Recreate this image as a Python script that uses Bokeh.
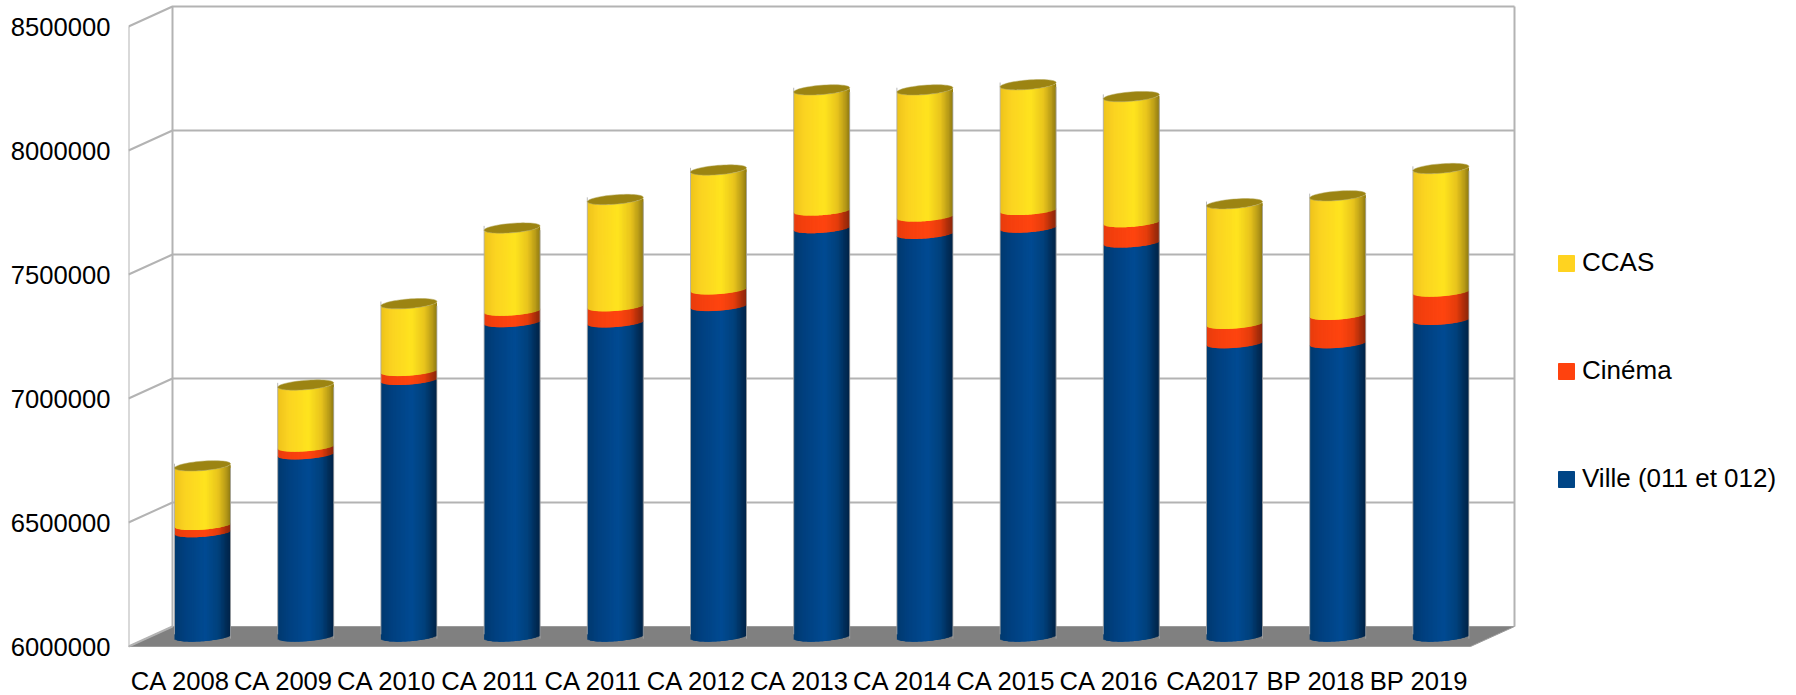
import numpy as np
from bokeh.plotting import figure
from bokeh.models import ColumnDataSource, FixedTicker, Range1d, Legend, LegendItem
from bokeh.embed import file_html
from bokeh.resources import INLINE

# ---------- data ----------
labels = ["CA 2008", "CA 2009", "CA 2010", "CA 2011", "CA 2011", "CA 2012", "CA 2013",
          "CA 2014", "CA 2015", "CA 2016", "CA2017", "BP 2018", "BP 2019"]
ville = [6421000, 6735000, 7035000, 7268000, 7267000, 7333000, 7647000,
         7624000, 7649000, 7589000, 7183000, 7183000, 7277000]
cinema = [29000, 31000, 36000, 46000, 65000, 67000, 71000,
          70000, 71000, 82000, 78000, 114000, 114000]
ccas = [238000, 248000, 271000, 333000, 430000, 481000, 486000,
        510000, 505000, 506000, 484000, 480000, 496000]
y_ticks = [6000000, 6500000, 7000000, 7500000, 8000000, 8500000]
series_names = ["CCAS", "Cinéma", "Ville (011 et 012)"]

# ---------- layout (pixels of the page) ----------
W, H = 1796, 695
FRONT_L, BACK_R = 128, 1514
FLOOR_Y = 646
STEP = 103.2
BAR0 = 202.0
DX, DY = 44, 20
PX_V = 500000 / 124.0          # value units per pixel
RAD = 28.0
TILT, MINOR = 2.17, 4.7
NSTRIP = 42
xu = lambda px: px / STEP      # pixel length to x units
BASE = y_ticks[0]

x0 = (FRONT_L - BAR0) / STEP
x1 = (W - BAR0) / STEP
yl = BASE - (H - FLOOR_Y) * PX_V
yh = BASE + FLOOR_Y * PX_V

p = figure(width=W, height=H, output_backend="svg", toolbar_location=None,
           x_range=Range1d(x0, x1), y_range=Range1d(yl, yh),
           min_border_left=FRONT_L, min_border_right=0, min_border_top=0,
           min_border_bottom=0, background_fill_color="white",
           border_fill_color="white", outline_line_color=None)
p.styles = {"margin": "0"}
p.grid.visible = False

LINE = "#b3b3b3"
# wall positions in data units
xf_l = x0
xb_l = x0 + xu(DX)
xb_r = x0 + xu(BACK_R - FRONT_L)
xf_r = xb_r - xu(DX)
dv = DY * PX_V

# floor
p.patch([xf_l, xf_r, xb_r, xb_l], [BASE, BASE, BASE + dv, BASE + dv],
        fill_color="#808080", line_color="#9a9a9a", line_width=1)
# grid on back wall and left wall
for v in y_ticks[1:]:
    p.line([xf_l, xb_l, xb_r], [v, v + dv, v + dv], line_color=LINE, line_width=2)
p.line([xf_l, xb_l], [BASE, BASE + dv], line_color=LINE, line_width=2)
p.line([xf_l, xf_l], [BASE, y_ticks[-1]], line_color=LINE, line_width=2)
p.line([xb_l, xb_l], [BASE + dv, y_ticks[-1] + dv], line_color=LINE, line_width=2)
p.line([xb_r, xb_r], [BASE + dv, y_ticks[-1] + dv], line_color=LINE, line_width=2)

# ---------- cylinders ----------
stops_t = [0.0, 0.18, 0.55, 0.78, 0.92, 1.0]
shades = {
    "ville": ["#003a70", "#00407f", "#004b93", "#00417c", "#002d58", "#002347"],
    "cinema": ["#e83d0d", "#f5400e", "#ff4510", "#e53d0c", "#a82d0a", "#8a260a"],
    "ccas": ["#eec41c", "#fbd322", "#ffe41f", "#e8c41d", "#b79a18", "#8f7a12"],
}
CAP = "#9c8412"


def rgb(h):
    return [int(h[i:i + 2], 16) for i in (1, 3, 5)]


def strip_colors(name):
    t = (np.arange(NSTRIP) + 0.5) / NSTRIP
    cols = np.array([rgb(c) for c in shades[name]], float)
    r = [np.interp(t, stops_t, cols[:, k]) for k in range(3)]
    return ["#%02x%02x%02x" % (int(a), int(b), int(c)) for a, b, c in zip(*r)]


s = (np.arange(NSTRIP) + 0.5) / NSTRIP * 2 - 1
edges = np.linspace(-1, 1, NSTRIP + 1)
lower = (-TILT * s + MINOR * np.sqrt(1 - s ** 2))  # px downward from the ellipse centre


def level(v):  # value at the centre of the bar's depth -> data y of ellipse centre
    return np.asarray(v, float) + dv / 2


ville_a = np.array(ville, float)
cin_a = ville_a + np.array(cinema, float)
top_a = cin_a + np.array(ccas, float)

bands = [("ville", np.full(13, BASE, float), ville_a),
         ("cinema", ville_a, cin_a),
         ("ccas", cin_a, top_a)]
for name, lo, hi in bands:
    cols = strip_colors(name)
    L, R, T, B, C = [], [], [], [], []
    for i in range(13):
        for j in range(NSTRIP):
            L.append(i + edges[j] * xu(RAD))
            R.append(i + edges[min(j + 2, NSTRIP)] * xu(RAD))
            B.append(level(lo[i]) - lower[j] * PX_V)
            extra = 1.0 * PX_V if name != "ccas" else 0
            T.append(level(hi[i]) - lower[j] * PX_V + extra)
            C.append(cols[j])
    p.quad(left="l", right="r", top="t", bottom="b", fill_color="c", line_color=None,
           source=ColumnDataSource(dict(l=L, r=R, t=T, b=B, c=C)))

# side edges
p.segment(x0=[i - xu(RAD) for i in range(13)], x1=[i - xu(RAD) for i in range(13)],
          y0=level(np.full(13, BASE)) + TILT * PX_V, y1=level(top_a) + TILT * PX_V,
          line_color="#a8a8a8", line_width=1, line_alpha=0.8)
p.segment(x0=[i + xu(RAD) for i in range(13)], x1=[i + xu(RAD) for i in range(13)],
          y0=level(np.full(13, BASE)) - TILT * PX_V, y1=level(top_a) - TILT * PX_V,
          line_color="#a8a8a8", line_width=1, line_alpha=0.8)

# top caps
th = np.linspace(0, 2 * np.pi, 60)
capx, capy = [], []
for i in range(13):
    capx.append(i + np.cos(th) * xu(RAD))
    capy.append(level(top_a[i]) + (TILT * np.cos(th) + MINOR * np.sin(th)) * PX_V)
p.patches(capx, capy, fill_color=CAP, line_color="#b5a85a", line_width=0.5)

# ---------- axes ----------
FONT = "Liberation Sans"
ya = p.yaxis[0]
ya.ticker = FixedTicker(ticks=y_ticks)
ya.formatter.use_scientific = False
ya.axis_line_color = None
ya.major_tick_line_color = None
ya.minor_tick_line_color = None
ya.major_tick_in = 0
ya.major_tick_out = 0
ya.major_label_standoff = 18
ya.major_label_text_font = FONT
ya.major_label_text_font_size = "25.6px"
ya.major_label_text_color = "black"
ya.major_label_overrides = {v: str(v) for v in y_ticks}

xa = p.xaxis[0]
tick_x = [i - xu(DX / 2) for i in range(13)]
xa.ticker = FixedTicker(ticks=tick_x)
xa.major_label_overrides = {t: l for t, l in zip(tick_x, labels)}
xa.fixed_location = BASE
xa.axis_line_color = None
xa.major_tick_line_color = None
xa.minor_tick_line_color = None
xa.major_tick_in = 0
xa.major_tick_out = 0
xa.major_label_standoff = 20
xa.major_label_text_font = FONT
xa.major_label_text_font_size = "25.6px"
xa.major_label_text_color = "black"

# ---------- legend ----------
n = float("nan")
lcol = ["#ffd320", "#ff420e", "#004586"]
rs = [p.quad(left=[n], right=[n], top=[n], bottom=[n], fill_color=c, line_color=c) for c in lcol]
legend = Legend(items=[LegendItem(label=nm, renderers=[r]) for nm, r in zip(series_names, rs)],
                location=(1428, 201), orientation="vertical", spacing=77, padding=0, margin=0,
                glyph_width=20, glyph_height=20, label_standoff=6, label_text_font=FONT,
                label_text_font_size="26px", label_text_color="black",
                background_fill_alpha=0, border_line_color=None)
p.add_layout(legend, "center")

open("out.html", "w").write(file_html(p, INLINE))
